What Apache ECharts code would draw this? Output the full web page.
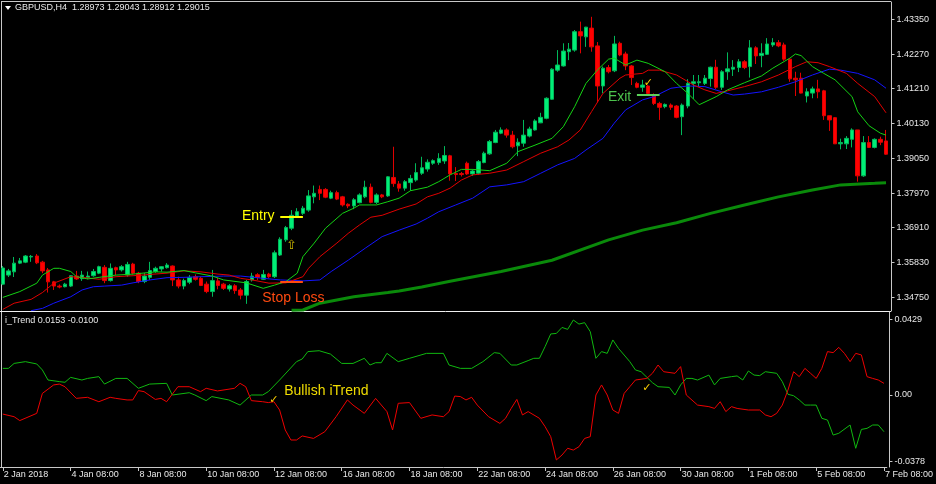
<!DOCTYPE html>
<html><head><meta charset="utf-8">
<script src="https://cdn.jsdelivr.net/npm/echarts@6/dist/echarts.min.js"></script>
<style>html,body{margin:0;padding:0;background:#000;}#c{width:936px;height:484px;}</style>
</head><body><div id="c"></div>
<script>
// ---- tick labels ----
const xTickLabels = ['2 Jan 2018','4 Jan 08:00','8 Jan 08:00','10 Jan 08:00','12 Jan 08:00','16 Jan 08:00','18 Jan 08:00','22 Jan 08:00','24 Jan 08:00','26 Jan 08:00','30 Jan 08:00','1 Feb 08:00','5 Feb 08:00','7 Feb 08:00'];
const priceTicks = [1.34750,1.35830,1.36910,1.37970,1.39050,1.40130,1.41210,1.42270,1.43350];
const trendTicks = [0.0429, 0.00, -0.0378];
const trendTickLabels = ['0.0429','0.00','-0.0378'];

// ---- candles (GBPUSD H4) ----
const opens = [1.3516,1.3544,1.3554,1.3581,1.3584,1.3600,1.3603,1.3584,1.3560,1.3523,1.3510,1.3508,1.3510,1.3541,1.3533,1.3537,1.3542,1.3550,1.3568,1.3527,1.3567,1.3560,1.3544,1.3578,1.3550,1.3524,1.3537,1.3555,1.3563,1.3567,1.3572,1.3529,1.3510,1.3522,1.3539,1.3534,1.3516,1.3493,1.3526,1.3516,1.3501,1.3511,1.3498,1.3482,1.3529,1.3545,1.3531,1.3547,1.3539,1.3606,1.3653,1.3689,1.3727,1.3735,1.3745,1.3786,1.3809,1.3809,1.3782,1.3799,1.3786,1.3763,1.3758,1.3768,1.3786,1.3816,1.3769,1.3792,1.3789,1.3846,1.3826,1.3813,1.3830,1.3838,1.3859,1.3872,1.3890,1.3892,1.3897,1.3913,1.3858,1.3858,1.3890,1.3857,1.3859,1.3892,1.3919,1.3954,1.3983,1.3993,1.3977,1.3944,1.3952,1.3974,1.3993,1.4015,1.4029,1.4088,1.4178,1.4191,1.4235,1.4240,1.4297,1.4281,1.4308,1.4253,1.4129,1.4186,1.4176,1.4261,1.4228,1.4191,1.4137,1.4125,1.4129,1.4101,1.4075,1.4065,1.4070,1.4067,1.4034,1.4067,1.4137,1.4139,1.4137,1.4152,1.4187,1.4125,1.4173,1.4181,1.4186,1.4204,1.4189,1.4247,1.4223,1.4227,1.4256,1.4263,1.4256,1.4212,1.4153,1.4153,1.4098,1.4107,1.4120,1.4114,1.4037,1.4031,1.3950,1.3950,1.3964,1.3993,1.3851,1.3954,1.3939,1.3964,1.3959];
const closes = [1.3566,1.3557,1.3581,1.3588,1.3603,1.3602,1.3582,1.3557,1.3523,1.3510,1.3507,1.3516,1.3542,1.3532,1.3544,1.3541,1.3555,1.3570,1.3527,1.3565,1.3560,1.3570,1.3577,1.3550,1.3524,1.3541,1.3558,1.3565,1.3570,1.3575,1.3529,1.3510,1.3527,1.3537,1.3531,1.3512,1.3493,1.3527,1.3512,1.3503,1.3511,1.3496,1.3482,1.3524,1.3541,1.3537,1.3546,1.3539,1.3613,1.3655,1.3691,1.3729,1.3740,1.3751,1.3789,1.3797,1.3797,1.3785,1.3799,1.3779,1.3761,1.3758,1.3777,1.3792,1.3816,1.3769,1.3792,1.3786,1.3848,1.3827,1.3813,1.3833,1.3843,1.3861,1.3876,1.3893,1.3898,1.3905,1.3914,1.3857,1.3855,1.3855,1.3857,1.3866,1.3895,1.3921,1.3957,1.3986,1.3993,1.3977,1.3941,1.3955,1.3977,1.3996,1.4021,1.4032,1.4091,1.4181,1.4194,1.4237,1.4243,1.4297,1.4284,1.4311,1.4250,1.4129,1.4184,1.4173,1.4259,1.4225,1.4191,1.4155,1.4125,1.4132,1.4106,1.4075,1.4063,1.4072,1.4063,1.4032,1.4070,1.4137,1.4142,1.4142,1.4153,1.4187,1.4125,1.4173,1.4182,1.4187,1.4204,1.4186,1.4247,1.4222,1.4230,1.4259,1.4263,1.4253,1.4212,1.4151,1.4148,1.4107,1.4111,1.4120,1.4111,1.4037,1.4024,1.3950,1.3954,1.3967,1.3993,1.3851,1.3954,1.3939,1.3964,1.3955,1.3918];
const highs = [1.3572,1.3563,1.3600,1.3597,1.3606,1.3606,1.3609,1.3588,1.3566,1.3526,1.3515,1.3520,1.3544,1.3557,1.3557,1.3555,1.3563,1.3573,1.3575,1.3580,1.3570,1.3575,1.3585,1.3582,1.3554,1.3550,1.3585,1.3570,1.3572,1.3581,1.3574,1.3539,1.3533,1.3544,1.3546,1.3539,1.3524,1.3560,1.3536,1.3520,1.3516,1.3516,1.3504,1.3529,1.3551,1.3550,1.3560,1.3551,1.3620,1.3661,1.3696,1.3745,1.3751,1.3758,1.3807,1.3821,1.3821,1.3813,1.3805,1.3805,1.3789,1.3766,1.3782,1.3797,1.3836,1.3827,1.3797,1.3795,1.3850,1.3941,1.3835,1.3838,1.3854,1.3890,1.3910,1.3902,1.3902,1.3921,1.3943,1.3916,1.3878,1.3863,1.3895,1.3871,1.3900,1.3926,1.3962,1.3993,1.4001,1.3998,1.3990,1.3967,1.4024,1.4003,1.4026,1.4046,1.4094,1.4184,1.4240,1.4261,1.4262,1.4302,1.4328,1.4312,1.4343,1.4265,1.4189,1.4194,1.4284,1.4266,1.4235,1.4194,1.4142,1.4148,1.4132,1.4106,1.4080,1.4075,1.4075,1.4070,1.4075,1.4150,1.4163,1.4163,1.4163,1.4189,1.4210,1.4178,1.4233,1.4209,1.4212,1.4209,1.4271,1.4252,1.4261,1.4277,1.4277,1.4271,1.4263,1.4215,1.4173,1.4170,1.4122,1.4127,1.4148,1.4117,1.4037,1.4033,1.3966,1.3974,1.3998,1.3993,1.3974,1.3974,1.3967,1.3972,1.3993];
const lows = [1.3513,1.3538,1.3538,1.3578,1.3581,1.3585,1.3578,1.3550,1.3490,1.3498,1.3503,1.3506,1.3507,1.3529,1.3526,1.3531,1.3539,1.3547,1.3519,1.3524,1.3544,1.3555,1.3539,1.3546,1.3519,1.3519,1.3529,1.3551,1.3555,1.3564,1.3510,1.3503,1.3500,1.3516,1.3527,1.3510,1.3488,1.3477,1.3500,1.3498,1.3493,1.3486,1.3469,1.3455,1.3524,1.3529,1.3529,1.3534,1.3535,1.3603,1.3647,1.3683,1.3725,1.3730,1.3740,1.3766,1.3776,1.3782,1.3779,1.3776,1.3756,1.3751,1.3748,1.3766,1.3782,1.3766,1.3764,1.3782,1.3786,1.3817,1.3802,1.3805,1.3805,1.3833,1.3854,1.3864,1.3885,1.3885,1.3888,1.3836,1.3835,1.3849,1.3854,1.3851,1.3854,1.3890,1.3916,1.3952,1.3980,1.3969,1.3936,1.3912,1.3941,1.3970,1.3991,1.4014,1.4026,1.4086,1.4173,1.4189,1.4209,1.4235,1.4230,1.4250,1.4235,1.4078,1.4106,1.4168,1.4172,1.4221,1.4178,1.4132,1.4122,1.4111,1.4101,1.4070,1.4024,1.4060,1.4055,1.4029,1.3977,1.4060,1.4089,1.4127,1.4132,1.4127,1.4120,1.4117,1.4148,1.4160,1.4172,1.4181,1.4155,1.4197,1.4187,1.4225,1.4250,1.4249,1.4207,1.4142,1.4098,1.4106,1.4078,1.4091,1.4091,1.4024,1.3990,1.3950,1.3933,1.3934,1.3939,1.3833,1.3848,1.3937,1.3936,1.3946,1.3916];

// ---- moving averages, [bar index, price] ----
const maFast = [[0,1.3475],[3,1.3493],[6,1.3519],[7,1.3544],[9,1.3565],[10,1.3565],[12,1.3555],[13,1.3539],[15,1.3532],[17,1.3537],[20,1.3544],[23,1.3547],[27,1.3554],[29,1.3553],[32,1.3558],[34,1.3551],[37,1.3541],[39,1.3529],[43,1.3520],[46,1.3503],[48,1.3513],[50,1.3524],[52,1.3550],[53,1.3601],[55,1.3643],[57,1.3689],[60,1.3735],[62,1.3751],[63,1.3761],[66,1.3761],[68,1.3771],[70,1.3782],[72,1.3805],[75,1.3816],[77,1.3833],[79,1.3854],[81,1.3871],[83,1.3871],[86,1.3867],[89,1.3890],[91,1.3926],[94,1.3946],[97,1.3967],[99,1.4003],[101,1.4065],[103,1.4137],[105,1.4178],[107,1.4212],[108,1.4215],[110,1.4194],[112,1.4209],[114,1.4199],[117,1.4173],[119,1.4137],[121,1.4106],[123,1.4071],[126,1.4096],[128,1.4117],[131,1.4139],[134,1.4160],[136,1.4184],[139,1.4215],[140,1.4228],[141,1.4223],[143,1.4189],[145,1.4168],[147,1.4148],[150,1.4096],[151,1.4049],[153,1.4006],[155,1.3983],[156,1.3977]];
const maMid = [[0,1.3438],[2,1.3457],[5,1.3469],[7,1.3490],[9,1.3519],[12,1.3539],[14,1.3537],[17,1.3531],[20,1.3539],[23,1.3542],[26,1.3546],[29,1.3550],[32,1.3557],[35,1.3554],[38,1.3547],[40,1.3544],[42,1.3534],[44,1.3529],[47,1.3519],[50,1.3520],[53,1.3539],[54,1.3565],[56,1.3601],[59,1.3643],[61,1.3673],[63,1.3699],[65,1.3723],[67,1.3729],[70,1.3748],[73,1.3764],[75,1.3786],[77,1.3797],[79,1.3813],[81,1.3838],[83,1.3854],[86,1.3859],[89,1.3869],[92,1.3895],[95,1.3921],[98,1.3941],[100,1.3962],[102,1.3993],[104,1.4050],[106,1.4106],[109,1.4153],[110,1.4163],[113,1.4168],[114,1.4178],[116,1.4178],[119,1.4163],[122,1.4132],[124,1.4117],[126,1.4106],[128,1.4114],[131,1.4127],[134,1.4142],[137,1.4163],[140,1.4189],[142,1.4204],[144,1.4201],[146,1.4189],[149,1.4168],[151,1.4137],[154,1.4096],[156,1.4046]];
const maSlow = [[5,1.3434],[7,1.3441],[9,1.3457],[12,1.3477],[14,1.3498],[16,1.3508],[18,1.3510],[21,1.3513],[23,1.3520],[26,1.3529],[29,1.3536],[32,1.3537],[35,1.3539],[39,1.3541],[42,1.3541],[46,1.3534],[49,1.3529],[53,1.3526],[56,1.3529],[58,1.3555],[61,1.3590],[64,1.3627],[67,1.3663],[70,1.3683],[73,1.3702],[75,1.3720],[77,1.3740],[80,1.3761],[83,1.3782],[86,1.3817],[89,1.3823],[92,1.3833],[95,1.3859],[98,1.3885],[101,1.3905],[103,1.3931],[106,1.3967],[108,1.4014],[110,1.4055],[113,1.4086],[115,1.4096],[118,1.4122],[121,1.4129],[124,1.4127],[127,1.4111],[129,1.4101],[131,1.4104],[134,1.4111],[137,1.4125],[140,1.4142],[143,1.4163],[146,1.4181],[148,1.4178],[151,1.4168],[154,1.4148],[156,1.4122]];
const maTrend = [[51,1.3435],[53,1.3436],[56,1.3457],[62,1.3477],[68,1.3490],[70,1.3495],[74,1.3507],[79,1.3525],[88,1.3555],[97,1.3590],[107,1.3653],[113,1.3683],[119,1.3706],[125,1.3735],[131,1.3761],[137,1.3786],[143,1.3807],[148,1.3823],[154,1.3828],[156,1.3830]];

// ---- i_Trend indicator, [bar index, value] ----
const trendBull = [[0,0.0151],[1,0.0151],[2,0.0179],[4,0.0189],[6,0.0176],[7,0.0142],[8,0.0085],[10,0.0076],[11,0.0072],[12,0.0100],[14,0.0085],[15,0.0094],[17,0.0104],[18,0.0062],[20,0.0094],[22,0.0094],[24,0.0038],[26,0.0062],[29,0.0066],[30,0],[33,0.0013],[34,0],[36,-0.0032],[37,-0.0009],[40,-0.0028],[42,-0.0057],[44,0],[46,0],[47,0.0019],[49,0.0085],[52,0.0189],[53,0.0204],[54,0.0246],[56,0.0251],[58,0.0232],[60,0.0179],[62,0.0179],[64,0.0208],[65,0.0170],[66,0.0183],[67,0.0183],[68,0.0236],[70,0.0189],[72,0.0208],[75,0.0236],[78,0.0236],[79,0.0170],[81,0.0151],[82,0.0151],[83,0.0151],[85,0.0189],[87,0.0240],[88,0.0236],[90,0.0170],[91,0.0170],[93,0.0195],[94,0.0208],[95,0.0208],[96,0.0274],[97,0.0346],[98,0.0349],[99,0.0383],[100,0.0372],[101,0.0425],[102,0.0402],[103,0.0410],[104,0.0359],[105,0.0208],[106,0.0246],[107,0.0236],[108,0.0312],[109,0.0264],[111,0.0189],[112,0.0142],[113,0.0132],[115,0.0070],[116,0.0047],[118,0.0043],[119,0],[120,0.0057],[121,0.0094],[122,0.0094],[123,0.0085],[125,0.0113],[126,0.0057],[127,0.0094],[129,0.0104],[130,0.0108],[131,0.0085],[132,0.0136],[133,0.0113],[134,0.0110],[135,0.0132],[137,0.0123],[138,0.0076],[139,0.0004],[140,-0.0004],[141,-0.0028],[142,-0.0057],[143,-0.0057],[144,-0.0057],[145,-0.0132],[146,-0.0142],[147,-0.0227],[148,-0.0217],[150,-0.0170],[151,-0.0302],[152,-0.0195],[153,-0.0189],[154,-0.0170],[155,-0.0170],[156,-0.0208]];
const trendBear = [[0,-0.0108],[2,-0.0123],[3,-0.0145],[6,-0.0104],[7,0.0009],[9,0.0057],[10,0.0062],[11,0.0047],[13,-0.0019],[15,-0.0013],[17,-0.0038],[19,-0.0013],[20,-0.0019],[22,-0.0028],[23,-0.0028],[24,0.0025],[25,0.0019],[27,-0.0025],[28,-0.0019],[29,-0.0038],[31,0.0047],[33,0.0047],[35,0.0019],[36,0.0038],[38,0.0023],[41,0.0038],[42,0.0066],[43,0.0047],[44,-0.0032],[46,-0.0038],[47,-0.0043],[48,-0.0038],[49,-0.0085],[50,-0.0198],[51,-0.0255],[52,-0.0255],[53,-0.0232],[55,-0.0246],[57,-0.0208],[59,-0.0123],[61,-0.0028],[62,-0.0057],[64,-0.0104],[66,-0.0019],[68,-0.0094],[69,-0.0198],[70,-0.0047],[72,-0.0043],[74,-0.0132],[76,-0.0113],[78,-0.0123],[79,-0.0094],[80,-0.0006],[81,-0.0009],[82,-0.0028],[83,-0.0013],[84,-0.0057],[86,-0.0123],[88,-0.0161],[89,-0.0132],[90,-0.0076],[91,-0.0025],[92,-0.0113],[93,-0.0094],[95,-0.0132],[96,-0.0179],[97,-0.0236],[98,-0.0368],[99,-0.0340],[100,-0.0302],[101,-0.0312],[102,-0.0293],[103,-0.0246],[104,-0.0236],[105,0],[106,0.0057],[107,0],[108,-0.0085],[109,-0.0104],[110,0.0009],[111,0.0047],[112,0.0085],[114,0.0094],[115,0.0123],[116,0.0170],[117,0.0132],[119,0.0123],[120,0.0161],[121,0],[123,-0.0057],[125,-0.0066],[126,-0.0076],[127,-0.0038],[128,-0.0094],[129,-0.0066],[130,-0.0076],[132,-0.0085],[134,-0.0085],[135,-0.0113],[136,-0.0123],[137,-0.0104],[138,-0.0057],[139,0.0028],[140,0.0132],[141,0.0104],[142,0.0151],[143,0.0123],[144,0.0094],[145,0.0151],[146,0.0246],[147,0.0240],[148,0.0270],[149,0.0236],[150,0.0189],[151,0.0236],[152,0.0227],[153,0.0104],[154,0.0094],[155,0.0085],[156,0.0066]];

// ---- trade annotations ----
const entryPrice = 1.3724, stopPrice = 1.3523, exitPrice = 1.4103;
const entryBars = [49, 53], exitBars = [112, 116];

// ---- categories: H4 bars, Mon-Fri ----
const MON = ['Jan','Feb','Mar'];
const cats = [];
let t = Date.UTC(2018, 0, 2, 8);
while (cats.length < opens.length) {
  const d = new Date(t);
  const wd = d.getUTCDay();
  if (wd !== 0 && wd !== 6) cats.push(d.getUTCDate() + ' ' + MON[d.getUTCMonth()] + ' ' + String(d.getUTCHours()).padStart(2, '0') + ':00');
  t += 4 * 3600 * 1000;
}
const candles = opens.map((o, i) => [o, closes[i], lows[i], highs[i]]);
const tickFn = (idx, val) => idx === 0 || xTickLabels.indexOf(val) >= 0;

const FONT = 'Liberation Sans';
const AX = '#c8c8c8';
const TXT = '#e8e8e8';
const gl = -1.84, gw = 890.7;

function txtMark(coord, text, pos, color, size, family, offset) {
  return {coord: coord, symbol: 'circle', symbolSize: 0, itemStyle: {color: 'rgba(0,0,0,0)'},
    label: {show: true, formatter: text, position: pos, distance: 0, color: color, fontSize: size,
      fontFamily: family || FONT, offset: offset || [0, 0]}};
}
function seg(bars, price, color, w) {
  return [{coord: [bars[0], price], lineStyle: {color: color, width: w, type: 'solid'}}, {coord: [bars[1], price]}];
}
const lineBase = {type: 'line', showSymbol: false, symbol: 'none', silent: true, clip: true};

const option = {
  backgroundColor: '#000000',
  animation: false,
  grid: [
    {left: gl, width: gw, top: 2, height: 309},
    {left: gl, width: gw, top: 312, height: 155}
  ],
  xAxis: [
    {type: 'category', gridIndex: 0, data: cats, boundaryGap: true, show: false},
    {type: 'category', gridIndex: 1, data: cats, boundaryGap: true, position: 'bottom',
      axisLine: {show: true, onZero: false, lineStyle: {color: AX, width: 1}},
      axisTick: {show: true, alignWithLabel: true, interval: tickFn, length: 4, lineStyle: {color: AX}},
      axisLabel: {interval: tickFn, formatter: (v, i) => i === 0 ? xTickLabels[0] : v,
        color: TXT, fontSize: 9, fontFamily: FONT, align: 'left', margin: 3, padding: [0, 0, 0, 1]},
      splitLine: {show: false}}
  ],
  yAxis: [
    {type: 'value', gridIndex: 0, position: 'right', min: 1.34329, max: 1.43888, offset: 2.64, scale: true,
      splitLine: {show: false},
      axisLine: {show: true, lineStyle: {color: AX}},
      axisTick: {show: true, length: 3, customValues: priceTicks, lineStyle: {color: AX}},
      axisLabel: {customValues: priceTicks, formatter: v => v.toFixed(5), color: TXT, fontSize: 9, fontFamily: FONT, margin: 5}},
    {type: 'value', gridIndex: 1, position: 'right', min: -0.0408, max: 0.04704, offset: 2.64,
      splitLine: {show: false},
      axisLine: {show: true, lineStyle: {color: AX}},
      axisTick: {show: true, length: 3, customValues: trendTicks, lineStyle: {color: AX}},
      axisLabel: {customValues: trendTicks, color: TXT, fontSize: 9, fontFamily: FONT, margin: 5,
        formatter: v => {
          let best = 0;
          trendTicks.forEach((tv, k) => { if (Math.abs(tv - v) < Math.abs(trendTicks[best] - v)) best = k; });
          return trendTickLabels[best];
        }}}
  ],
  series: [
    {type: 'candlestick', xAxisIndex: 0, yAxisIndex: 0, data: candles, barWidth: 4, silent: true,
      itemStyle: {color: '#00ee77', color0: '#ff0000', borderColor: '#00b85a', borderColor0: '#e00000', borderWidth: 1}},
    Object.assign({}, lineBase, {xAxisIndex: 0, yAxisIndex: 0, data: maTrend, lineStyle: {color: '#0a8a0a', width: 3}}),
    Object.assign({}, lineBase, {xAxisIndex: 0, yAxisIndex: 0, data: maSlow, lineStyle: {color: '#1414ff', width: 1}}),
    Object.assign({}, lineBase, {xAxisIndex: 0, yAxisIndex: 0, data: maMid, lineStyle: {color: '#e00000', width: 1}}),
    Object.assign({}, lineBase, {xAxisIndex: 0, yAxisIndex: 0, data: maFast, lineStyle: {color: '#14d214', width: 1},
      markLine: {silent: true, symbol: ['none', 'none'], label: {show: false},
        data: [seg(entryBars, entryPrice, '#ffff00', 2), seg(entryBars, stopPrice, '#ff4a10', 2), seg(exitBars, exitPrice, '#5ad25a', 2)]},
      markPoint: {silent: true, data: [
        txtMark([48, 1.3727], 'Entry', 'left', '#ffff00', 14),
        txtMark([46, 1.3473], 'Stop Loss', 'right', '#ff4a10', 14, FONT, [-1, 0]),
        txtMark([111, 1.4095], 'Exit', 'left', '#4cc24c', 14),
        txtMark([51, 1.3634], '⇧', 'inside', '#c8b400', 13, 'DejaVu Sans'),
        txtMark([114, 1.4137], '✓', 'inside', '#ffd200', 11, 'DejaVu Sans')
      ]}}),
    Object.assign({}, lineBase, {xAxisIndex: 1, yAxisIndex: 1, data: trendBull, lineStyle: {color: '#10b810', width: 1}}),
    Object.assign({}, lineBase, {xAxisIndex: 1, yAxisIndex: 1, data: trendBear, lineStyle: {color: '#ee0000', width: 1},
      markPoint: {silent: true, data: [
        txtMark([50, 0.0023], 'Bullish iTrend', 'right', '#f0dc00', 14, FONT, [-1, 0]),
        txtMark([48, -0.0028], '✓', 'inside', '#ffd200', 11, 'DejaVu Sans'),
        txtMark([114, 0.0037], '✓', 'inside', '#ffd200', 11, 'DejaVu Sans')
      ]}})
  ],
  graphic: [
    {type: 'line', shape: {x1: 1, y1: 1.5, x2: 891, y2: 1.5}, style: {stroke: AX, lineWidth: 1}, silent: true},
    {type: 'line', shape: {x1: 1.5, y1: 1, x2: 1.5, y2: 467}, style: {stroke: AX, lineWidth: 1}, silent: true},
    {type: 'line', shape: {x1: 0, y1: 311.5, x2: 891, y2: 311.5}, style: {stroke: '#f0f0f0', lineWidth: 1}, silent: true},
    {type: 'polygon', shape: {points: [[5, 6], [11, 6], [8, 10]]}, style: {fill: '#ffffff'}, silent: true},
    {type: 'text', left: 15, top: 3, style: {text: 'GBPUSD,H4  1.28973 1.29043 1.28912 1.29015', fill: TXT, font: '9px "Liberation Sans"'}, silent: true},
    {type: 'text', left: 5, top: 316, style: {text: 'i_Trend 0.0153 -0.0100', fill: TXT, font: '9px "Liberation Sans"'}, silent: true}
  ]
};
const chart = echarts.init(document.getElementById('c'), null, {renderer: 'canvas'});
chart.setOption(option);
</script>
</body></html>
